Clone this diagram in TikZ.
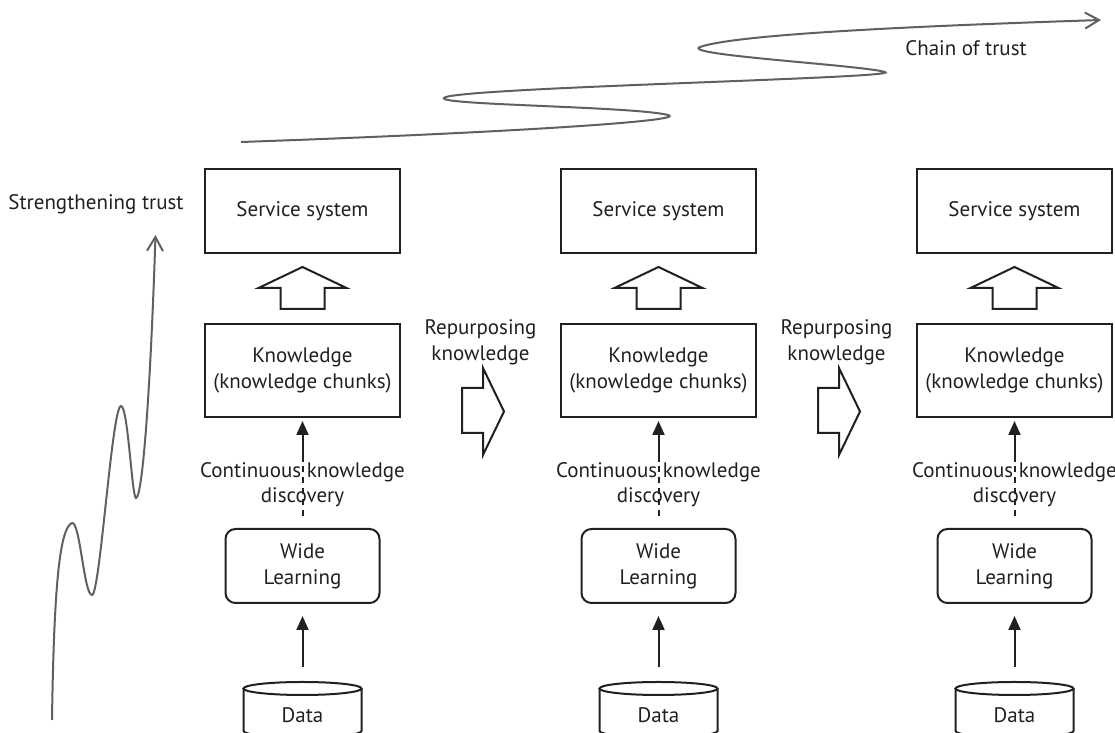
\documentclass[tikz,border=0pt]{standalone}
\usepackage{fontspec}
\setmainfont{PT Sans}
\usetikzlibrary{arrows.meta}
\definecolor{ink}{HTML}{231F20}
\definecolor{trustgray}{HTML}{606060}
\tikzset{
  txt/.style={text=ink, align=center, font=\fontsize{10.5}{13}\selectfont},
  svcbox/.style={txt, draw=ink, line width=1pt, minimum width=97.5pt, minimum height=42pt},
  knowbox/.style={txt, draw=ink, line width=1pt, minimum width=97.5pt, minimum height=46.5pt},
  widebox/.style={txt, draw=ink, line width=1pt, rounded corners=5pt, minimum width=77pt, minimum height=37pt},
  disclabel/.style={txt, inner sep=0pt, font=\fontsize{10.5}{12.5}\selectfont},
  hollow/.style={draw=ink, fill=white, line width=1pt, line join=miter},
  flow/.style={draw=ink, line width=1pt, -{Triangle[length=7pt,width=6pt]}},
  dashline/.style={draw=ink, line width=1pt, dash pattern=on 3pt off 2.5pt},
  dbline/.style={draw=ink, line width=1pt},
  trust/.style={draw=trustgray, line width=1pt, -{Straight Barb[length=7pt,width=8pt,line width=1pt]}}
}
\begin{document}
\begin{tikzpicture}[x=0.5pt,y=0.5pt]
  \useasboundingbox (0,0) rectangle (1115,733);

  % the three columns
  \foreach \i/\cx in {1/302.5,2/658.5,3/1014.5}{
    \node[svcbox] (svc\i) at (\cx,522) {Service system};
    \node[knowbox] (know\i) at (\cx,362.5) {Knowledge\\(knowledge chunks)};
    \node[disclabel] (disc\i) at (\cx,248.5) {Continuous knowledge\\discovery};
    \node[widebox] (wide\i) at (\cx,167) {Wide\\Learning};
    \node[txt] (data\i) at (\cx,18) {Data};
    \coordinate (dtop\i) at (\cx,51);

    % data cylinder
    \draw[dbline] (\cx-59,44.5) -- (\cx-59,2)
      arc[start angle=180,end angle=360,x radius=29.5pt,y radius=3.25pt] -- (\cx+59,44.5);
    \draw[dbline] (\cx,44.5) ellipse[x radius=29.5pt,y radius=3.25pt];

    % arrows
    \draw[flow, shorten <=7.5pt, shorten >=6pt] (dtop\i) -- (wide\i.south);
    \draw[dashline, shorten <=6pt] (wide\i.north) -- (disc\i.north);
    \draw[flow, shorten >=1.5pt] (disc\i.north) -- (know\i.south);

    % hollow arrow up
    \draw[hollow] (\cx-22,424) -- (\cx-22,445) -- (\cx-44,445) -- (\cx,466)
      -- (\cx+44,445) -- (\cx+22,445) -- (\cx+22,424) -- cycle;
  }

  % repurposing between columns
  \foreach \j/\mx in {1/480.5,2/836.5}{
    \node[txt] (rep\j) at (\mx,391) {Repurposing\\knowledge};
    \draw[hollow] (\mx-18.5,300) -- (\mx+2.5,300) -- (\mx+2.5,278) -- (\mx+23.5,321.5)
      -- (\mx+2.5,365) -- (\mx+2.5,345) -- (\mx-18.5,345) -- cycle;
  }

  % strengthening trust
  \node[txt] (strength) at (96,529) {Strengthening trust};
  \draw[trust] (52,13) .. controls (54,150) and (60,205) .. (72,210)
    .. controls (80,212) and (84,138) .. (92,138)
    .. controls (100,138) and (112,327) .. (121,327)
    .. controls (128,327) and (132,235) .. (136,235)
    .. controls (142,235) and (150,330) .. (155.5,498);

  % chain of trust
  \node[txt] (chain) at (966,685) {Chain of trust};
  \draw[trust] (241,591) .. controls (500,600) and (690,612) .. (668,618)
    .. controls (632,627) and (420,628) .. (446,636)
    .. controls (480,646) and (905,655) .. (885,661)
    .. controls (860,668) and (680,678) .. (700,686)
    .. controls (740,700) and (950,708) .. (1101,713);
\end{tikzpicture}
\end{document}
